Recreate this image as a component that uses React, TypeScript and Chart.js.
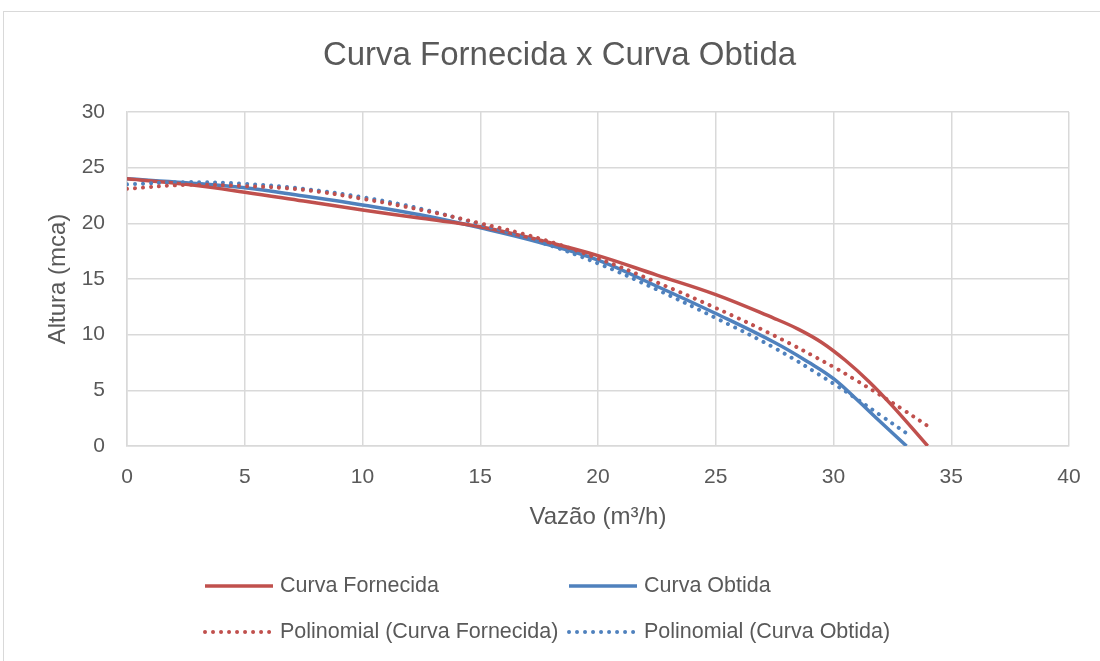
import React, { useEffect, useRef } from "react";
import { Chart, registerables } from "chart.js";
Chart.register(...registerables);

const TITLE = "Curva Fornecida x Curva Obtida";
const X_TITLE = "Vazão (m³/h)";
const Y_TITLE = "Altura (mca)";

const labelFornecida = "Curva Fornecida";
const labelObtida = "Curva Obtida";
const labelPolyFornecida = "Polinomial (Curva Fornecida)";
const labelPolyObtida = "Polinomial (Curva Obtida)";

const xFornecida = [0, 2.5, 5, 7.5, 10, 12.5, 15, 17.5, 20, 22.5, 25, 27.5, 28.5, 29.5, 30.5, 31.5, 32.5, 34];
const yFornecida = [24.0, 23.5, 22.8, 22.0, 21.2, 20.45, 19.7, 18.5, 17.1, 15.35, 13.6, 11.45, 10.5, 9.3, 7.7, 5.8, 3.6, 0];

const xObtida = [0, 2.5, 5, 7.5, 10, 12.5, 15, 17.5, 20, 22.5, 25, 27.5, 29, 30, 31, 32, 33.1];
const yObtida = [24.0, 23.65, 23.2, 22.45, 21.65, 20.75, 19.6, 18.3, 16.7, 14.35, 11.9, 9.3, 7.45, 6.05, 4.15, 2.15, 0];

const xPolyFornecida = [0, 2.5, 5, 7.5, 10, 12.5, 15, 17.5, 20, 22.5, 25, 27.5, 30, 31, 32, 33, 34];
const yPolyFornecida = [23.1, 23.45, 23.35, 23.0, 22.2, 21.2, 20.0, 18.65, 16.85, 14.7, 12.4, 9.9, 7.1, 5.85, 4.55, 3.2, 1.8];

const xPolyObtida = [0, 2.5, 5, 7.5, 10, 12.5, 15, 17.5, 20, 22.5, 25, 27.5, 30, 31, 32, 33.1];
const yPolyObtida = [23.5, 23.7, 23.55, 23.1, 22.35, 21.3, 19.9, 18.35, 16.4, 14.05, 11.5, 8.8, 5.6, 4.2, 2.75, 1.15];

const xTicks = [0, 5, 10, 15, 20, 25, 30, 35, 40];
const yTicks = [0, 5, 10, 15, 20, 25, 30];

const RED = "#C0504D";
const BLUE = "#4F81BD";
const FONT = "'Liberation Sans', Arial, sans-serif";
const TEXT = "#595959";
const GRID = "#d9d9d9";

const pts = (xs: number[], ys: number[]) => xs.map((x, i) => ({ x, y: ys[i] }));

const overlay = {
  id: "overlay",
  afterDraw(chart: any) {
    const ctx = chart.ctx as CanvasRenderingContext2D;
    ctx.save();
    ctx.fillStyle = TEXT;
    ctx.font = `33px ${FONT}`;
    ctx.textAlign = "center";
    ctx.textBaseline = "middle";
    ctx.fillText(TITLE, 559.5, 56);
    const cols = [203, 567];
    const rows = [586, 632];
    chart.data.datasets.forEach((ds: any, i: number) => {
      const x = cols[i % 2];
      const y = rows[Math.floor(i / 2)];
      ctx.strokeStyle = ds.borderColor;
      ctx.lineWidth = ds.borderWidth;
      ctx.setLineDash(ds.borderDash || []);
      ctx.lineCap = ds.borderCapStyle || "butt";
      ctx.beginPath();
      ctx.moveTo(x + 2, y);
      ctx.lineTo(x + 70, y);
      ctx.stroke();
      ctx.setLineDash([]);
      ctx.font = `21.5px ${FONT}`;
      ctx.textAlign = "left";
      ctx.fillStyle = TEXT;
      ctx.fillText(ds.label, x + 77, y);
    });
    ctx.restore();
  },
};

export default function App() {
  const ref = useRef<HTMLCanvasElement | null>(null);
  useEffect(() => {
    if (!ref.current) return;
    const dotted = [0.01, 8];
    const chart = new Chart(ref.current, {
      type: "line",
      data: {
        datasets: [
          { label: labelFornecida, data: pts(xFornecida, yFornecida), borderColor: RED, backgroundColor: RED, borderWidth: 3.5, pointRadius: 0, tension: 0.4, order: 1 },
          { label: labelObtida, data: pts(xObtida, yObtida), borderColor: BLUE, backgroundColor: BLUE, borderWidth: 3.5, pointRadius: 0, tension: 0.4, order: 1 },
          { label: labelPolyFornecida, data: pts(xPolyFornecida, yPolyFornecida), borderColor: RED, backgroundColor: RED, borderWidth: 4, borderDash: dotted, borderCapStyle: "round", pointRadius: 0, tension: 0.4, order: 0 },
          { label: labelPolyObtida, data: pts(xPolyObtida, yPolyObtida), borderColor: BLUE, backgroundColor: BLUE, borderWidth: 4, borderDash: dotted, borderCapStyle: "round", pointRadius: 0, tension: 0.4, order: 0 },
        ] as any,
      },
      options: {
        responsive: false,
        animation: false,
        devicePixelRatio: 1,
        layout: { padding: { top: 112, right: 31, bottom: 115, left: 0 } },
        plugins: { legend: { display: false }, title: { display: false }, tooltip: { enabled: false } },
        scales: {
          x: {
            type: "linear",
            min: 0,
            max: 40,
            afterBuildTicks: (s: any) => { s.ticks = xTicks.map((v) => ({ value: v })); },
            afterFit: (s: any) => { s.height = 100; },
            ticks: { color: TEXT, font: { size: 21, family: FONT }, padding: 19, maxRotation: 0 },
            grid: { color: GRID, lineWidth: 1.5, drawTicks: false },
            border: { color: GRID, width: 1.5 },
            title: { display: true, text: X_TITLE, color: TEXT, font: { size: 24, family: FONT }, padding: { top: 0, bottom: 14 } },
          },
          y: {
            type: "linear",
            min: 0,
            max: 30,
            afterBuildTicks: (s: any) => { s.ticks = yTicks.map((v) => ({ value: v })); },
            afterFit: (s: any) => { s.width = 127; },
            ticks: { color: TEXT, font: { size: 21, family: FONT }, padding: 22 },
            grid: { color: GRID, lineWidth: 1.5, drawTicks: false },
            border: { color: GRID, width: 1.5 },
            title: { display: true, text: Y_TITLE, color: TEXT, font: { size: 24, family: FONT }, padding: { top: 44, bottom: 0 } },
          },
        },
      } as any,
      plugins: [overlay],
    });
    return () => chart.destroy();
  }, []);
  return (
    <div style={{ position: "fixed", left: 0, top: 0, width: 1100, height: 661, overflow: "hidden", background: "#fff" }}>
      <div style={{ position: "absolute", left: 3, top: 11, width: 1200, height: 800, border: "1px solid #d9d9d9", boxSizing: "border-box" }} />
      <canvas ref={ref} width={1100} height={661} style={{ position: "absolute", left: 0, top: 0, width: 1100, height: 661 }} />
    </div>
  );
}
